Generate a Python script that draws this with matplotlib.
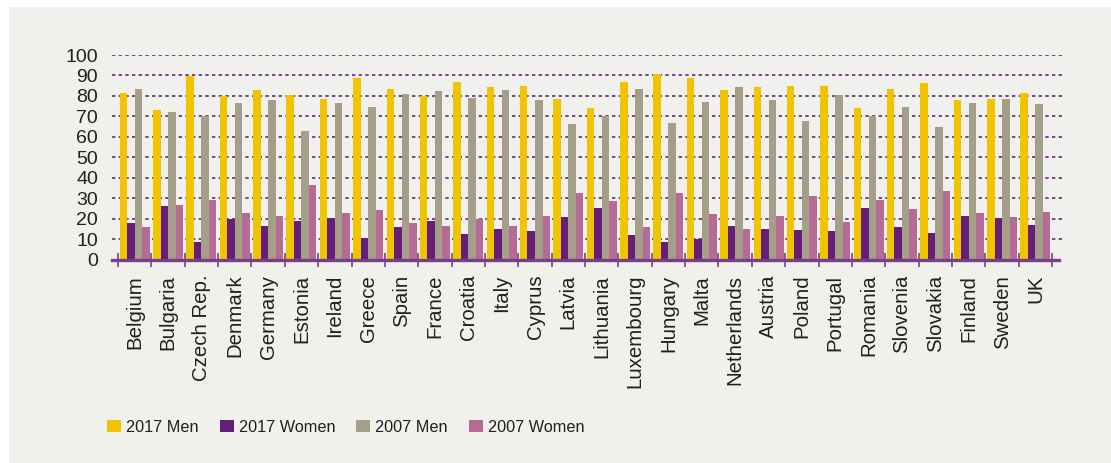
import matplotlib
matplotlib.use("Agg")
import matplotlib.pyplot as plt
from matplotlib import font_manager
from matplotlib.patches import Rectangle
import numpy as np

countries = ["Belgium", "Bulgaria", "Czech Rep.", "Denmark", "Germany", "Estonia",
             "Ireland", "Greece", "Spain", "France", "Croatia", "Italy", "Cyprus",
             "Latvia", "Lithuania", "Luxembourg", "Hungary", "Malta", "Netherlands",
             "Austria", "Poland", "Portugal", "Romania", "Slovenia", "Slovakia",
             "Finland", "Sweden", "UK"]

men_2017 = [81.6, 73.2, 89.9, 80.1, 83.0, 80.4, 78.6, 88.9, 83.5, 80.1, 87.0, 84.5, 85.0,
            78.6, 74.2, 87.0, 90.9, 88.9, 83.0, 84.5, 85.0, 85.0, 74.2, 83.5, 86.5,
            78.1, 78.6, 81.6]
women_2017 = [17.9, 26.3, 8.6, 19.9, 16.5, 18.9, 20.4, 10.6, 16.0, 18.9, 12.6, 15.0, 14.0,
              20.9, 25.3, 12.1, 8.6, 10.1, 16.5, 15.0, 14.5, 14.0, 25.3, 16.0, 13.0,
              21.4, 20.4, 17.0]
men_2007 = [83.5, 72.3, 70.3, 76.7, 78.1, 63.0, 76.7, 74.7, 81.1, 82.5, 79.1, 83.0, 78.1,
            66.4, 70.3, 83.5, 66.9, 77.2, 84.5, 78.1, 67.9, 80.6, 70.3, 74.7, 64.9,
            76.7, 78.6, 76.2]
women_2007 = [16.0, 26.8, 29.2, 22.8, 21.4, 36.5, 22.8, 24.3, 17.9, 16.5, 19.9, 16.5, 21.4,
              32.6, 28.7, 16.0, 32.6, 22.3, 15.0, 21.4, 31.2, 18.4, 29.2, 24.8, 33.6,
              22.8, 20.9, 23.3]

series_labels = ["2017 Men", "2017 Women", "2007 Men", "2007 Women"]
series_colors = ["#f0c400", "#661f78", "#a59e89", "#b56b96"]
y_ticks = [0, 10, 20, 30, 40, 50, 60, 70, 80, 90, 100]

names = {f.name for f in font_manager.fontManager.ttflist}
base_font = "Liberation Sans" if "Liberation Sans" in names else "DejaVu Sans"
legend_font, legend_size = base_font, 11.7

plt.rcParams["font.family"] = [base_font, "DejaVu Sans"]

W, H = 1111, 463
fig = plt.figure(figsize=(W / 100, H / 100), dpi=100)
fig.patch.set_facecolor("white")
fig.patches.append(Rectangle((9 / W, 0), 1 - 9 / W, 1 - 7 / H, transform=fig.transFigure,
                             facecolor="#f0f0ec", edgecolor="none", zorder=-10))

left, right = 112 / W, 1063 / W
bottom, top = 1 - 259.5 / H, 1 - 55 / H
ax = fig.add_axes([left, bottom, right - left, top - bottom])
ax.set_facecolor("none")

x = np.arange(len(countries))
bw = 0.225
all_series = [men_2017, women_2017, men_2007, women_2007]
for i, (vals, lab, col) in enumerate(zip(all_series, series_labels, series_colors)):
    ax.bar(x + (i - 1.5) * bw, vals, width=bw, color=col, label=lab, zorder=3, linewidth=0)

xl = -0.68
xr = xl + (right - left) * W / 33.36
ax.set_xlim(xl, xr)
ax.set_ylim(0, 100)

ax.set_yticks(y_ticks)
ax.set_yticklabels([str(v) for v in y_ticks], fontsize=14, color="#231f20")
ax.tick_params(axis="y", length=0, pad=10)

for v in y_ticks[1:]:
    ax.axhline(v, color="#6b2378", lw=1.2, linestyle=(0, (2, 2)), zorder=1)

for s in ["top", "right", "left"]:
    ax.spines[s].set_visible(False)
ax.spines["bottom"].set_color("#7a3e88")
ax.spines["bottom"].set_linewidth(2.4)
ax.spines["bottom"].set_bounds(xl, 27.71)
ax.spines["bottom"].set_zorder(5)

ax.set_xticks(np.arange(len(countries) + 1) - 0.5, minor=False)
ax.set_xticklabels([])
ax.tick_params(axis="x", which="major", direction="inout", length=9.4, width=1.2,
               color="#7a3e88")
ax.set_xticks(x, minor=True)
ax.set_xticklabels(countries, minor=True, rotation=90, fontsize=14.7, color="#231f20",
                   va="top", ha="center")
ax.tick_params(axis="x", which="minor", length=0, pad=11)

handles, labels = ax.get_legend_handles_labels()
leg = fig.legend(handles, labels, loc="center left", bbox_to_anchor=(102 / W, 1 - 427 / H),
                 ncol=4, frameon=False, prop={"family": legend_font, "size": legend_size},
                 handlelength=0.86, handleheight=0.77, handletextpad=0.3,
                 columnspacing=1.32, borderaxespad=0, borderpad=0.3)
for t in leg.get_texts():
    t.set_color("#231f20")

fig.savefig("out.png", dpi=100)
